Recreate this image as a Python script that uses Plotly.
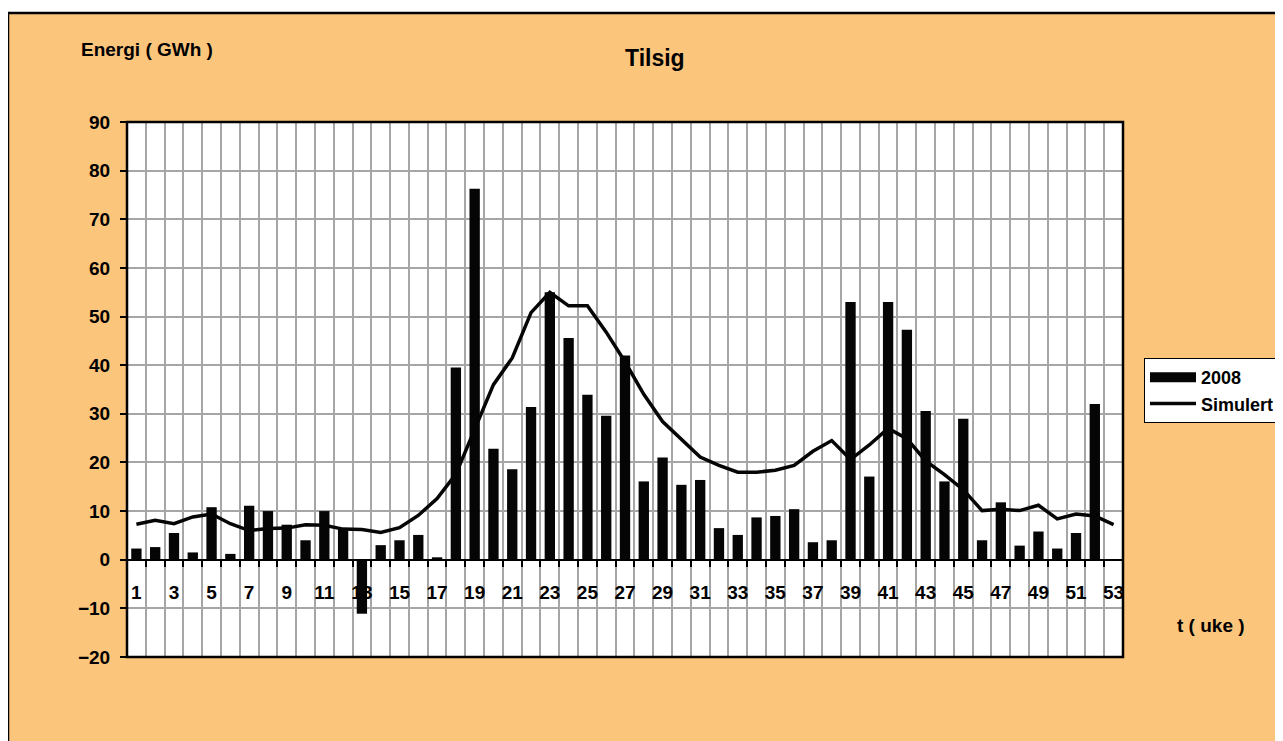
import plotly.graph_objects as go

weeks = list(range(1, 54))
bars_2008 = [2.3, 2.6, 5.5, 1.5, 10.8, 1.2, 11.1, 10.0, 7.2, 4.0, 10.0, 6.3, -11.1, 3.0, 4.0, 5.1, 0.5,
             39.5, 76.3, 22.8, 18.6, 31.4, 55.0, 45.6, 33.9, 29.6, 42.0, 16.1, 21.0, 15.4, 16.4, 6.5,
             5.1, 8.7, 9.0, 10.4, 3.6, 4.0, 53.0, 17.1, 53.0, 47.3, 30.6, 16.1, 29.0, 4.0, 11.8, 2.9,
             5.8, 2.3, 5.5, 32.0, None]
simulert = [7.3, 8.1, 7.4, 8.8, 9.4, 7.4, 6.0, 6.4, 6.5, 7.2, 7.1, 6.3, 6.2, 5.6, 6.6, 9.1, 12.6,
            17.6, 26.8, 36.0, 41.5, 50.8, 55.0, 52.2, 52.2, 46.8, 40.7, 34.0, 28.4, 24.7, 21.1, 19.4,
            18.0, 18.0, 18.4, 19.4, 22.3, 24.5, 20.6, 23.6, 27.0, 24.9, 20.3, 17.5, 14.4, 10.1, 10.4,
            10.1, 11.2, 8.4, 9.4, 9.0, 7.2]
odd_weeks = [w for w in weeks if w % 2 == 1]
odd_labels = [str(w) for w in odd_weeks]
boundaries = [w + 0.5 for w in range(0, 54)]
y_ticks = list(range(-20, 91, 10))

ORANGE = "#FCC57C"
INK = "#050505"
FONT = "Liberation Sans, Arial, sans-serif"

fig = go.Figure()
fig.add_trace(go.Bar(x=weeks, y=bars_2008, name="2008", showlegend=False,
                     marker=dict(color=INK, line=dict(width=0))))
# legend-only entry drawn as a wide bar-like swatch
fig.add_trace(go.Scatter(x=[None], y=[None], name="2008", mode="lines",
                         line=dict(color=INK, width=12)))
fig.add_trace(go.Scatter(x=weeks, y=simulert, name="Simulert", mode="lines",
                         line=dict(color=INK, width=3.5)))

OFF = 8  # page body margin
W, H = 1283 - OFF, 741 - OFF
L, R, T, B = 127 - OFF, 1123 - OFF, 122 - OFF, 657 - OFF


def px(xp):
    return (xp - OFF - L) / (R - L)


def py(yp):
    return (B - (yp - OFF)) / (B - T)


fig.update_layout(
    width=W, height=H,
    margin=dict(l=L, r=W - R, t=T, b=H - B, pad=0, autoexpand=False),
    paper_bgcolor=ORANGE, plot_bgcolor="white",
    bargap=0.45, showlegend=True,
    font=dict(family=FONT, size=19, color="black", weight="bold"),
    xaxis=dict(range=[0.5, 53.5], tickmode="array", tickvals=odd_weeks, ticktext=odd_labels,
               showgrid=False, ticks="", ticklabelstandoff=15, anchor="free", position=20 / 110,
               showline=True, linecolor="black", linewidth=2, zeroline=False,
               tickfont=dict(family=FONT, size=19, weight="bold"),
               minor=dict(tickmode="array", tickvals=boundaries, showgrid=True, gridcolor="#a6a6a6",
                          gridwidth=1.5, ticks="outside", ticklen=6, tickcolor="black", tickwidth=2)),
    yaxis=dict(range=[-20, 90], tickmode="array", tickvals=y_ticks, showgrid=True, gridcolor="#a6a6a6",
               gridwidth=1.5, zeroline=False, ticks="outside", ticklen=6, tickcolor="black", tickwidth=2,
               ticklabelstandoff=6, showline=False,
               tickfont=dict(family=FONT, size=19, weight="bold")),
    legend=dict(x=px(1144), y=py(358), xanchor="left", yanchor="top", bgcolor="white",
                bordercolor="black", borderwidth=1, font=dict(family=FONT, size=18, weight="bold"),
                itemwidth=46),
    shapes=[
        dict(type="rect", xref="paper", yref="paper", x0=0, x1=1, y0=0, y1=1,
             line=dict(color="black", width=2.5), fillcolor="rgba(0,0,0,0)", layer="above"),
        dict(type="rect", xref="paper", yref="paper", x0=px(-20), x1=px(1300), y0=py(13), y1=py(-20),
             line=dict(width=0), fillcolor="white", layer="above"),
        dict(type="line", xref="paper", yref="paper", x0=px(8), x1=px(1300), y0=py(13), y1=py(13),
             line=dict(color="black", width=2.5)),
        dict(type="line", xref="paper", yref="paper", x0=px(8), x1=px(8), y0=py(13), y1=py(760),
             line=dict(color="black", width=2.5)),
    ],
    annotations=[
        dict(text="Tilsig", xref="paper", yref="paper", x=px(655), y=py(58), showarrow=False,
             xanchor="center", yanchor="middle", font=dict(family=FONT, size=23, weight="bold")),
        dict(text="Energi ( GWh )", xref="paper", yref="paper", x=px(79), y=py(50), showarrow=False,
             xanchor="left", yanchor="middle", font=dict(family=FONT, size=19, weight="bold")),
        dict(text="t ( uke )", xref="paper", yref="paper", x=px(1211), y=py(625), showarrow=False,
             xanchor="center", yanchor="middle", font=dict(family=FONT, size=19, weight="bold")),
    ],
)

fig.write_html("out.html")
